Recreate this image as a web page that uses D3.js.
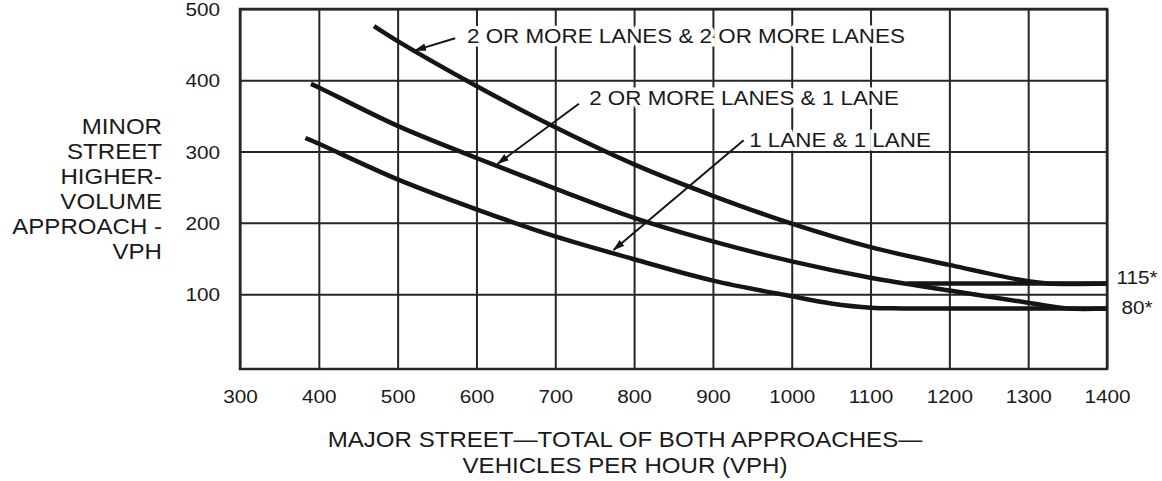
<!DOCTYPE html>
<html>
<head>
<meta charset="utf-8">
<script src="https://cdn.jsdelivr.net/npm/d3@7"></script>
<style>
  body { margin: 0; background: #fff; }
  text { font-family: "Liberation Sans", Arial, sans-serif; fill: #1a1a1a; }
</style>
</head>
<body>
<svg id="chart"></svg>
<script>
// data (x = major street VPH, y = minor street VPH)
const xTicks = [300, 400, 500, 600, 700, 800, 900, 1000, 1100, 1200, 1300, 1400];
const yTicks = [100, 200, 300, 400, 500];

const twoTwo = [[470, 476], [500, 455], [600, 392], [700, 334], [800, 282], [900, 238],
  [1000, 199], [1100, 166], [1200, 141], [1300, 118], [1325, 115], [1400, 115]];
const twoOne = [[390, 395], [400, 390], [500, 336], [600, 291], [700, 248], [800, 207],
  [900, 174], [1000, 146], [1100, 123], [1200, 105], [1300, 88], [1350, 80], [1400, 80]];
const oneOne = [[383, 319], [400, 311], [500, 261], [600, 219], [700, 181], [800, 149],
  [900, 119], [1000, 97], [1050, 87], [1100, 81], [1140, 80], [1400, 80]];
const floor115 = [[1147, 115], [1400, 115]];

const curveNames = ["2 OR MORE LANES & 2 OR MORE LANES", "2 OR MORE LANES & 1 LANE", "1 LANE & 1 LANE"];
// label position, arrow start and arrow tip, in data units
const callouts = [
  { tx: 588, ty: 452, ax: 573, ay: 459, bx: 522, by: 442 },
  { tx: 743, ty: 365, ax: 730, ay: 367, bx: 627, by: 283 },
  { tx: 946, ty: 307, ax: 939, ay: 316, bx: 774, by: 162 }
];
const minLabels = [{ v: 115, text: "115*", dy: 1 }, { v: 80, text: "80*", dy: 6 }];

const yTitle = ["MINOR", "STREET", "HIGHER-", "VOLUME", "APPROACH -", "VPH"];
const xTitle = ["MAJOR STREET\u2014TOTAL OF BOTH APPROACHES\u2014", "VEHICLES PER HOUR (VPH)"];

const width = 1162, height = 481;
const plotL = 240, plotR = 1107, plotT = 9, plotB = 369;
const sx = 1.12; // the figure's lettering is a bit wide

const svg = d3.select("#chart").attr("width", width).attr("height", height);
svg.append("rect").attr("width", width).attr("height", height).attr("fill", "#fff");

const x = d3.scaleLinear().domain([300, 1400]).range([plotL, plotR]);
const y = d3.scaleLinear().domain([-5, 500]).range([plotB, plotT]);

function addText(parent, px, py, str, size, anchor) {
  return parent.append("text")
    .attr("transform", `translate(${px},${py}) scale(${sx},1)`)
    .attr("text-anchor", anchor)
    .style("font-size", size + "px")
    .text(str);
}

// grid via axes
const xAxis = svg.append("g")
  .attr("transform", `translate(0,${plotB})`)
  .call(d3.axisBottom(x).tickValues(xTicks).tickFormat(d3.format("d"))
    .tickSize(-(plotB - plotT)).tickSizeOuter(0));
const yAxis = svg.append("g")
  .attr("transform", `translate(${plotL},0)`)
  .call(d3.axisLeft(y).tickValues(yTicks).tickFormat(d3.format("d"))
    .tickSize(-(plotR - plotL)).tickSizeOuter(0));

[xAxis, yAxis].forEach(g => {
  g.select(".domain").remove();
  g.selectAll("line").attr("stroke", "#262626").attr("stroke-width", 2);
  g.selectAll("text").attr("fill", "#1a1a1a").style("font-size", "18.5px")
    .attr("transform", `scale(${sx},1)`);
});
xAxis.selectAll("text").attr("y", 34.5).attr("dy", 0);
yAxis.selectAll("text").attr("x", -20 / sx).attr("dy", "0.36em");

svg.append("rect")
  .attr("x", plotL).attr("y", plotT)
  .attr("width", plotR - plotL).attr("height", plotB - plotT)
  .attr("fill", "none").attr("stroke", "#262626").attr("stroke-width", 2.5);

// curves
const line = d3.line().x(d => x(d[0])).y(d => y(d[1])).curve(d3.curveCatmullRom.alpha(0.5));
[twoTwo, twoOne, oneOne, floor115].forEach(c => {
  svg.append("path")
    .attr("d", line(c))
    .attr("fill", "none")
    .attr("stroke", "#151515")
    .attr("stroke-width", 4.5)
    .attr("stroke-linejoin", "round");
});

// arrows and curve labels
svg.append("defs").append("marker")
  .attr("id", "head")
  .attr("viewBox", "0 -5 12 10")
  .attr("refX", 11).attr("refY", 0)
  .attr("markerUnits", "userSpaceOnUse")
  .attr("markerWidth", 12).attr("markerHeight", 10)
  .attr("orient", "auto")
  .append("path").attr("d", "M0,-3.8L12,0L0,3.8Z").attr("fill", "#151515");

callouts.forEach((c, i) => {
  addText(svg, x(c.tx), y(c.ty), curveNames[i], 20, "start")
    .attr("stroke", "#fff").attr("stroke-width", 7).attr("paint-order", "stroke");
  svg.append("line")
    .attr("x1", x(c.ax)).attr("y1", y(c.ay))
    .attr("x2", x(c.bx)).attr("y2", y(c.by))
    .attr("stroke", "#151515").attr("stroke-width", 2)
    .attr("marker-end", "url(#head)");
});

minLabels.forEach(d => addText(svg, 1137, y(d.v) + d.dy, d.text, 18.5, "middle"));

// axis titles
yTitle.forEach((t, i) => addText(svg, 162, 133.5 + i * 25, t, 21.5, "end"));
xTitle.forEach((t, i) => addText(svg, 625, 447 + i * 26, t, 21.5, "middle"));
</script>
</body>
</html>
